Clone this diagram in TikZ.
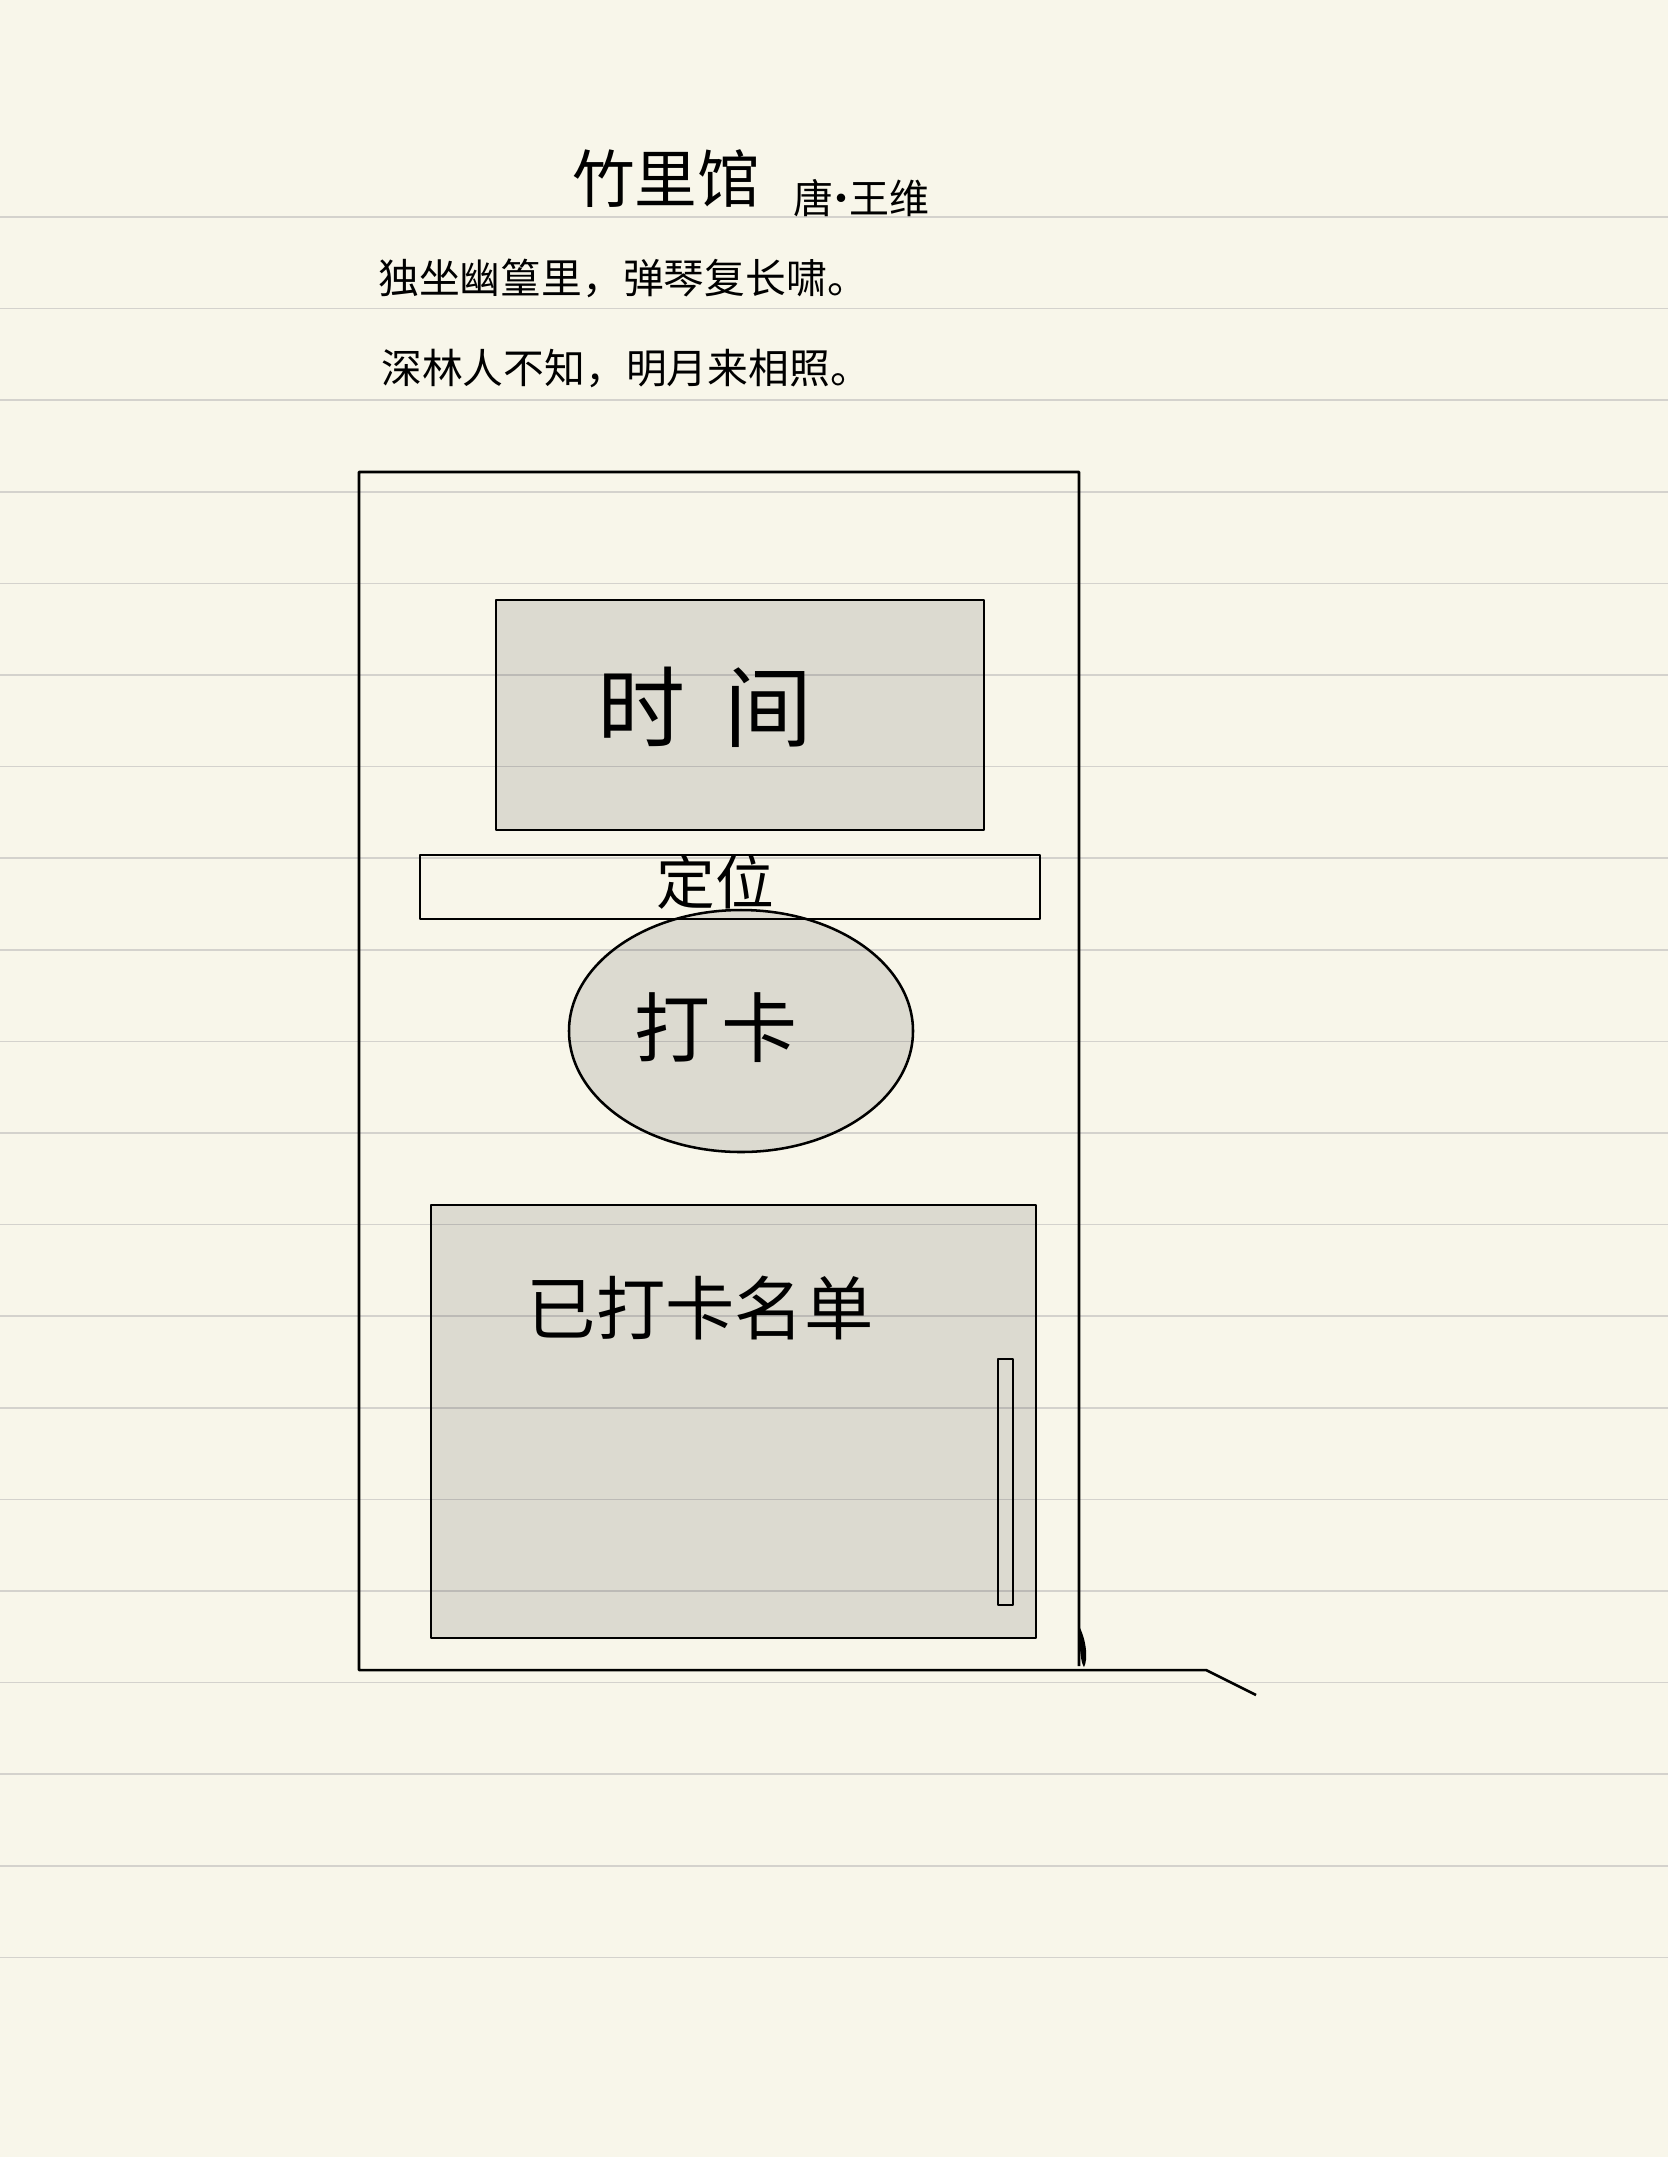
\documentclass[tikz,border=0pt]{standalone}
\usepackage{fontspec}
\newfontfamily\cjk{Noto Sans CJK SC}
\definecolor{paper}{HTML}{F8F6EA}
\definecolor{ruleline}{HTML}{D4D2CD}

\tikzset{every picture/.style={line width=0.75pt}}
\tikzset{
  ruled/.style={draw=ruleline, line width=1.2pt},
  sketch/.style={draw=black, line width=1.9pt, line join=round},
  panel/.style={sketch, fill=black, fill opacity=0.11},
  hand/.style={inner sep=0.75pt, text=black},
}
\newcommand{\handsize}[1]{\cjk\fontsize{#1}{#1}\selectfont}

\begin{document}
\begin{tikzpicture}[x=0.75pt,y=0.75pt,yscale=-1,xscale=1]
\useasboundingbox (0,0) rectangle (1668,2157);

%Paper
\fill[paper] (0,0) rectangle (1668,2157);

%Ruled lines
\draw[ruled] (0,217) -- (1668,217);
\draw[ruled] (0,308.6) -- (1668,308.6);
\draw[ruled] (0,400.2) -- (1668,400.2);
\draw[ruled] (0,491.8) -- (1668,491.8);
\draw[ruled] (0,583.4) -- (1668,583.4);
\draw[ruled] (0,675) -- (1668,675);
\draw[ruled] (0,766.6) -- (1668,766.6);
\draw[ruled] (0,858.2) -- (1668,858.2);
\draw[ruled] (0,949.8) -- (1668,949.8);
\draw[ruled] (0,1041.4) -- (1668,1041.4);
\draw[ruled] (0,1133) -- (1668,1133);
\draw[ruled] (0,1224.6) -- (1668,1224.6);
\draw[ruled] (0,1316.2) -- (1668,1316.2);
\draw[ruled] (0,1407.8) -- (1668,1407.8);
\draw[ruled] (0,1499.4) -- (1668,1499.4);
\draw[ruled] (0,1591) -- (1668,1591);
\draw[ruled] (0,1682.6) -- (1668,1682.6);
\draw[ruled] (0,1774.2) -- (1668,1774.2);
\draw[ruled] (0,1865.8) -- (1668,1865.8);
\draw[ruled] (0,1957.4) -- (1668,1957.4);

%Shape: Phone frame
\draw[sketch] (1079,1666) -- (1079,472) -- (359,472) -- (359,1670) -- (1206,1670) -- (1256,1695);
%Shape: Pen mark at frame corner
\fill (1078,1624) .. controls (1087,1640) and (1088,1660) .. (1084,1667) .. controls (1080,1662) and (1080,1645) .. cycle;

%Shape: Rectangle (time)
\draw[panel] (496,600) rectangle (984,830);
%Shape: Ellipse (check-in)
\draw[panel] (741,1031) ellipse [x radius=172, y radius=121];
%Shape: Rectangle (location)
\draw[sketch] (420,855) rectangle (1040,919);
%Shape: Rectangle (list)
\draw[panel] (431,1205) rectangle (1036,1638);
%Shape: Scroll bar
\draw[sketch, line width=1.1pt] (998,1359) rectangle (1013,1605);

% Text Node
\draw (666,179) node (title) [hand, font=\handsize{47}] {竹里馆};
% Text Node
\draw (861,198) node (author) [hand, font=\handsize{30}] {唐\kern-0.3em·\kern-0.3em王维};
% Text Node
\draw (623,278) node (verseA) [hand, font=\handsize{30.6}] {独坐幽篁里，弹琴复长啸。};
% Text Node
\draw (626,369) node (verseB) [hand, font=\handsize{30.6}] {深林人不知，明月来相照。};
% Text Node
\draw (705,707) node (clock) [hand, font=\handsize{66}] {时\hspace{30pt}间};
% Text Node
\draw (715,882) node (locate) [hand, font=\handsize{44}] {定位};
% Text Node
\draw (716,1028) node (punch) [hand, font=\handsize{57}] {打\hspace{9pt}卡};
% Text Node
\draw (700,1308) node (roster) [hand, font=\handsize{52}] {已打卡名单};

\end{tikzpicture}
\end{document}
